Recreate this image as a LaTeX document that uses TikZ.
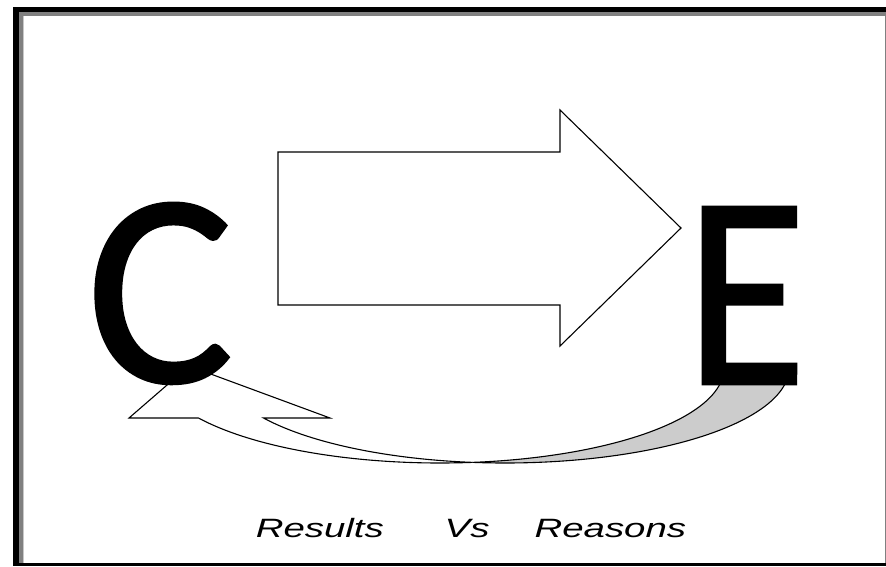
\documentclass[tikz,border=0pt]{standalone}
\usepackage{fontspec}
\setmainfont{Liberation Sans}
\newfontfamily\calib[FakeBold=1]{Carlito}
\definecolor{framegray}{HTML}{808080}
\definecolor{lightline}{HTML}{C8C8C8}
\definecolor{shade}{HTML}{CCCCCC}
\tikzset{
  outline/.style={draw=black, line width=1.1pt, line join=miter},
  letter/.style={font=\calib\fontsize{276}{276}\selectfont, inner sep=0pt, text=black},
  caption/.style={font=\itshape\fontsize{26.5}{30}\selectfont, inner sep=0pt, text=black}
}
\begin{document}
\begin{tikzpicture}[x=1pt,y=-1pt]
\useasboundingbox (0,0) rectangle (886,566);
\fill[white] (0,0) rectangle (886,566);
% frame
\fill[black] (13,7) rectangle (18.5,566);
\fill[black] (13,7) rectangle (886,12.3);
\fill[black] (13,563) rectangle (886,566);
\fill[framegray] (18.5,12.3) rectangle (23.3,563);
\fill[framegray] (18.5,12.3) rectangle (886,16);
\fill[framegray] (884.8,16) rectangle (886,563);
\fill[lightline] (23.3,16) rectangle (24,563);
% big block arrow
\draw[outline, fill=white] (278,152) -- (560,152) -- (560,110) -- (681,228)
  -- (560,346) -- (560,305) -- (278,305) -- cycle;
% curved arrow: back (shaded) part
\draw[outline, fill=shade]
  plot[domain=83.43:0, samples=40, smooth, variable=\t] ({440+284*cos(\t)},{368+95*sin(\t)})
  -- plot[domain=0:96.57, samples=40, smooth, variable=\t] ({505+284*cos(\t)},{368+95*sin(\t)})
  -- cycle;
% curved arrow: front part with head
\draw[outline, fill=white] (129,418) -- (189,366) -- (330,418)
  -- plot[domain=148.24:96.57, samples=40, smooth, variable=\t] ({505+284*cos(\t)},{368+95*sin(\t)})
  -- plot[domain=83.43:148.24, samples=40, smooth, variable=\t] ({440+284*cos(\t)},{368+95*sin(\t)})
  -- cycle;
% letters
\node[letter, anchor=base west] (C) at (86.5,382) {C};
\node[letter, anchor=base west] (E) at (685,384) {\scalebox{0.9}[1]{E}};
% caption
\node[caption, anchor=base] (cap) at (471,537) {\scalebox{1.45}[1]{Results\hspace{42pt}Vs\hspace{31pt}Reasons}};
\end{tikzpicture}
\end{document}
